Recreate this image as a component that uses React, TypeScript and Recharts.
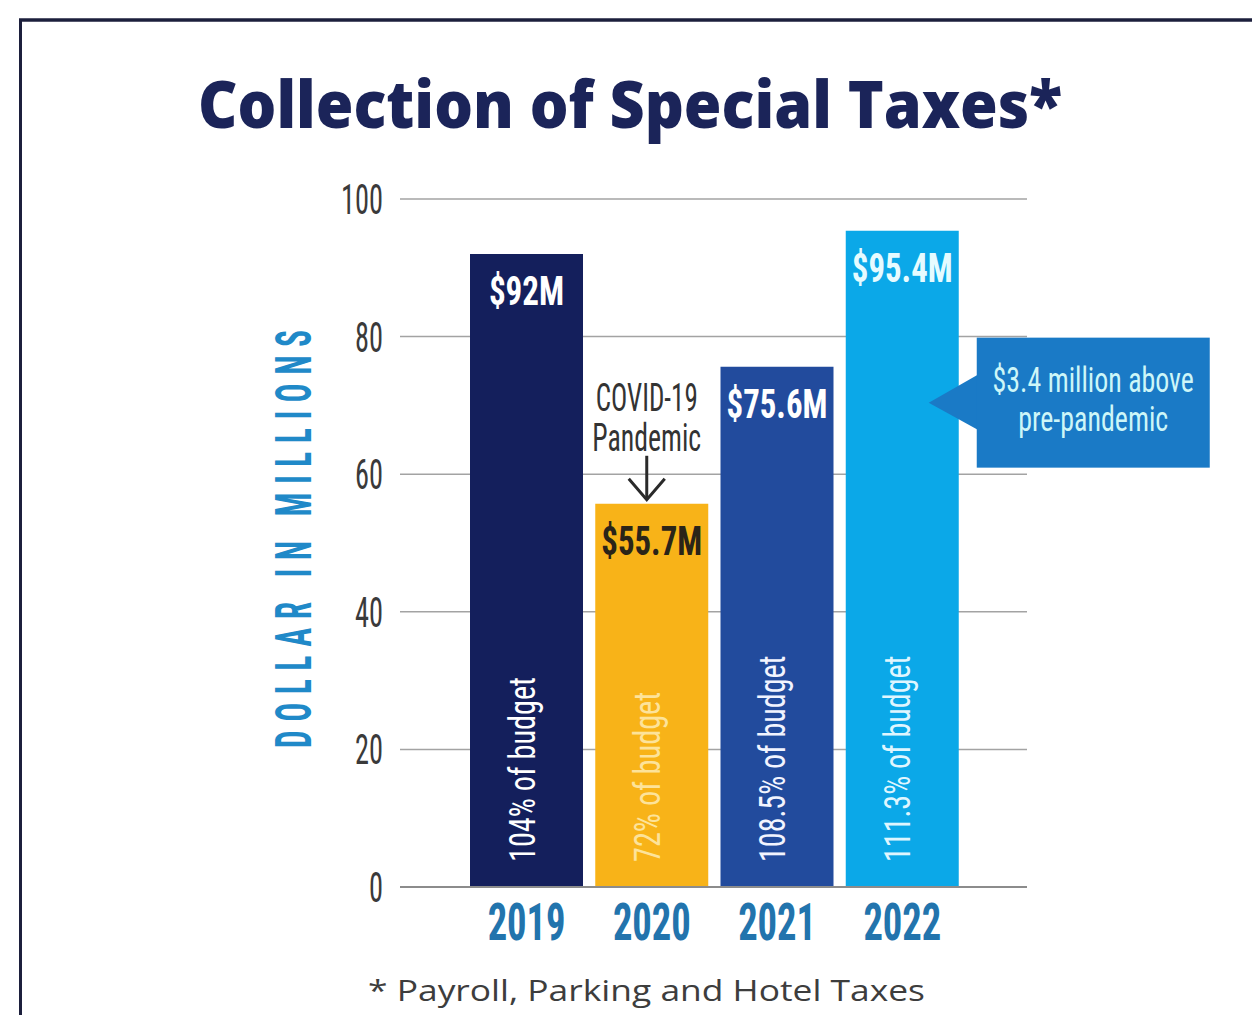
import React from 'react';
import { BarChart, Bar, XAxis, YAxis, CartesianGrid, Cell, LabelList } from 'recharts';

// ---------- data ----------
const years = ['2019', '2020', '2021', '2022'];
const collections = [92, 55.7, 75.6, 95.4];
const valueLabels = ['$92M', '$55.7M', '$75.6M', '$95.4M'];
const budgetLabels = ['104% of budget', '72% of budget', '108.5% of budget', '111.3% of budget'];
const yTicks = [0, 20, 40, 60, 80, 100];
const annotatedYear = '2020';
const annotationLines = ['COVID-19', 'Pandemic'];
const calloutYear = '2022';
const calloutLines = ['$3.4 million above', 'pre-pandemic'];
const titleText = 'Collection of Special Taxes*';
const footerText = '* Payroll, Parking and Hotel Taxes';
const axisTitle = 'DOLLAR IN MILLIONS';

const data = years.map((year, i) => ({
  year,
  value: collections[i],
  label: valueLabels[i],
  budget: budgetLabels[i],
}));

// ---------- styles ----------
const BAR_COLORS = ['#141f5c', '#f8b318', '#224b9d', '#0ba8e8'];
const VALUE_COLORS = ['#ffffff', '#2a2418', '#ffffff', '#e6fbff'];
const BUDGET_COLORS = ['#ffffff', '#fde39a', '#f2f4ff', '#dff6ff'];
const COND = "'Liberation Sans Narrow','Roboto Condensed','DejaVu Sans Condensed','Liberation Sans',Arial,sans-serif";
const GEO = "'Open Sans','Noto Sans',Lato,Arial,sans-serif";

const UNIT: Record<string, number> = {
  '.': 0.45, ' ': 0.5, '%': 1.3, M: 1.25, m: 1.45, i: 0.45, l: 0.45, I: 0.5,
  f: 0.6, t: 0.6, '-': 0.6, r: 0.7, C: 1.1, O: 1.1, V: 1.1, D: 1.1, P: 1.1,
};
const units = (s: string) => Array.from(s).reduce((a, c) => a + (UNIT[c] ?? 1), 0);

function CText(props: any) {
  const { x = 0, y = 0, text, size, unit, weight = 400, fill, anchor = 'middle', transform, family = COND } = props;
  return (
    <text
      x={x}
      y={y}
      fontSize={size}
      fontWeight={weight}
      fill={fill}
      textAnchor={anchor}
      fontFamily={family}
      textLength={units(text) * unit}
      lengthAdjust="spacingAndGlyphs"
      transform={transform}
    >
      {text}
    </text>
  );
}

function box(props: any) {
  const vb = props.viewBox || {};
  const x = Number(vb.x ?? props.x ?? 0);
  const y = Number(vb.y ?? props.y ?? 0);
  const width = Number(vb.width ?? props.width ?? 0);
  const height = Number(vb.height ?? props.height ?? 0);
  return { x, y, width, height };
}

const renderValue = (props: any) => {
  const { x, y, width } = box(props);
  const idx = valueLabels.indexOf(props.value);
  return (
    <CText x={x + width / 2} y={y + 51} text={String(props.value)} size={40} unit={17.7} weight={700} fill={VALUE_COLORS[idx]} />
  );
};

const renderBudget = (props: any) => {
  const { x, y, width, height } = box(props);
  const idx = budgetLabels.indexOf(props.value);
  const cx = x + width / 2;
  const bottom = y + height;
  return (
    <CText
      x={0}
      y={0}
      anchor="start"
      transform={`translate(${cx + 8},${bottom - 25}) rotate(-90)`}
      text={String(props.value)}
      size={36}
      unit={14.8}
      weight={400}
      fill={BUDGET_COLORS[idx]}
    />
  );
};

const renderAnnotations = (props: any) => {
  const { x, y, width } = box(props);
  const cx = x + width / 2;
  if (props.value === annotatedYear) {
    const ax = cx - 5;
    return (
      <g>
        <CText x={ax} y={y - 93} text={annotationLines[0]} size={38} unit={13.6} fill="#333333" />
        <CText x={ax} y={y - 53} text={annotationLines[1]} size={38} unit={13.6} fill="#333333" />
        <line x1={ax} y1={y - 48} x2={ax} y2={y - 4} stroke="#2a2a2a" strokeWidth={3} />
        <polyline points={`${ax - 18},${y - 25} ${ax},${y - 4} ${ax + 18},${y - 25}`} fill="none" stroke="#2a2a2a" strokeWidth={3} />
      </g>
    );
  }
  if (props.value === calloutYear) {
    const right = x + width;
    const bx = right + 18;
    const by = y + 107;
    const bw = 233;
    const bh = 130;
    const tcx = bx + bw / 2;
    return (
      <g>
        <polygon points={`${right - 30},${y + 172} ${bx + 1},${y + 144} ${bx + 1},${y + 199}`} fill="#1a7ac6" />
        <rect x={bx} y={by} width={bw} height={bh} fill="#1a7ac6" />
        <CText x={tcx} y={by + 54} text={calloutLines[0]} size={35} unit={13.7} fill="#cdf6f8" />
        <CText x={tcx} y={by + 93} text={calloutLines[1]} size={35} unit={13.4} fill="#cdf6f8" />
      </g>
    );
  }
  return null;
};

const YearTick = (props: any) => {
  const { x, y, payload } = props;
  return <CText x={x} y={Number(y) + 53} text={String(payload.value)} size={52} unit={19.5} weight={700} fill="#2274ad" />;
};

const NumTick = (props: any) => {
  const { x, y, payload } = props;
  return <CText x={x} y={Number(y) + 15} anchor="end" text={String(payload.value)} size={42} unit={14} weight={400} fill="#3a3a3a" />;
};

export default function App() {
  return (
    <div style={{ position: 'absolute', left: 0, top: 0, width: 1252, height: 1015, background: '#ffffff', overflow: 'hidden' }}>
      <BarChart
        width={1252}
        height={1015}
        data={data}
        margin={{ top: 199, right: 225, bottom: 68, left: 340 }}
        barSize={113}
      >
        <CartesianGrid horizontal vertical={false} stroke="#a3a3a3" strokeWidth={1.5} />
        <XAxis
          dataKey="year"
          height={60}
          tickSize={0}
          tickMargin={0}
          tickLine={false}
          axisLine={{ stroke: '#8c8c8c', strokeWidth: 2 }}
          padding={{ left: 64, right: 62 }}
          interval={0}
          tick={(p: any) => <YearTick {...p} />}
        />
        <YAxis
          width={60}
          domain={[0, 100]}
          ticks={yTicks}
          interval={0}
          axisLine={false}
          tickLine={false}
          tickSize={0}
          tickMargin={17}
          tick={(p: any) => <NumTick {...p} />}
        />
        <Bar dataKey="value" isAnimationActive={false}>
          {data.map((d, i) => (
            <Cell key={d.year} fill={BAR_COLORS[i]} />
          ))}
          <LabelList dataKey="label" content={renderValue} />
          <LabelList dataKey="budget" content={renderBudget} />
          <LabelList dataKey="year" content={renderAnnotations} />
        </Bar>
      </BarChart>
      <svg width={1252} height={1015} style={{ position: 'absolute', left: 0, top: 0, pointerEvents: 'none' }}>
        <line x1={19} y1={20} x2={1252} y2={20} stroke="#1c1f3c" strokeWidth={3.5} />
        <line x1={20.5} y1={19} x2={20.5} y2={1015} stroke="#1c1f3c" strokeWidth={3} />
        <text x={198} y={128} fontSize={66} fontWeight={800} fill="#1b2459" fontFamily={GEO} textLength={864} lengthAdjust="spacingAndGlyphs">
          {titleText}
        </text>
        <text x={368} y={1001} fontSize={30} fontWeight={400} fill="#3d3d3d" fontFamily={GEO} textLength={557} lengthAdjust="spacingAndGlyphs">
          {footerText}
        </text>
        <g transform="translate(311,539) rotate(-90) scale(0.62,1)">
          <text
            x={0}
            y={0}
            textAnchor="middle"
            fontSize={50}
            fontWeight={700}
            fill="#2089c8"
            fontFamily={COND}
            textLength={674}
            lengthAdjust="spacing"
          >
            {axisTitle}
          </text>
        </g>
      </svg>
    </div>
  );
}
